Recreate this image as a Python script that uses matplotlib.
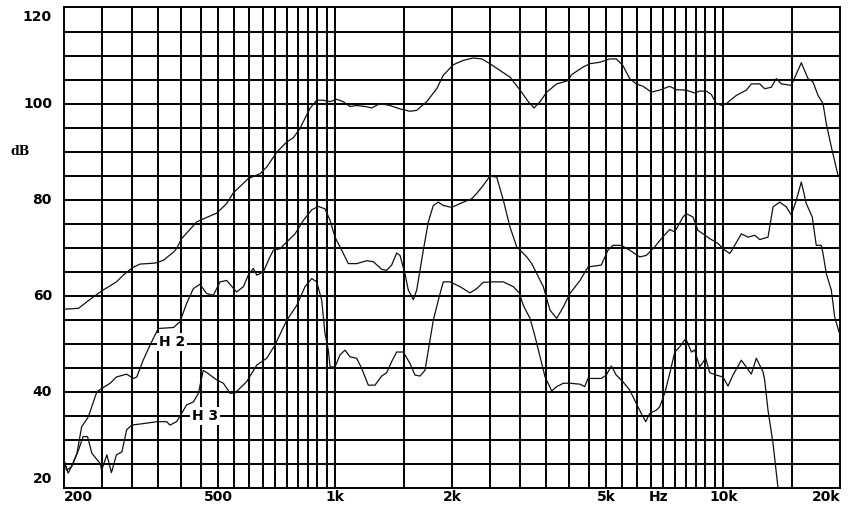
import matplotlib
matplotlib.use("Agg")
import matplotlib.pyplot as plt
from matplotlib.transforms import offset_copy

# ---------------- data ----------------
main_f = [200, 218, 233, 250, 273, 287, 301, 314, 343, 361, 383, 390, 402, 440, 466, 495, 525, 546,
          597, 640, 666, 707, 750, 780, 811, 861, 896, 932, 970, 1009, 1049, 1092, 1136, 1194, 1242,
          1305, 1384, 1469, 1559, 1622, 1721, 1827, 1899, 2016, 2139, 2269, 2386, 2506, 2659, 2822,
          2995, 3146, 3254, 3373, 3510, 3723, 3989, 4061, 4352, 4529, 4806, 5098, 5302, 5517, 5741,
          5970, 6214, 6528, 6860, 7280, 7571, 8034, 8443, 8698, 9046, 9319, 9599, 9946, 10186, 10808,
          11470, 11818, 12417, 12791, 13303, 13703, 14118, 14982, 15898, 16541, 17040, 17554, 18084,
          18440, 18994, 19762, 20000]
main_db = [57.2, 57.4, 59.2, 61.0, 62.9, 64.6, 65.9, 66.6, 66.8, 67.4, 69.1, 69.8, 71.9, 75.4, 76.3,
           77.2, 79.2, 81.4, 84.4, 85.4, 86.8, 89.9, 92.0, 92.9, 94.8, 99.0, 100.7, 100.7, 100.4, 100.9,
           100.4, 99.4, 99.6, 99.4, 99.1, 100.0, 99.6, 98.9, 98.4, 98.6, 100.4, 103.1, 105.9, 108.1,
           109.0, 109.5, 109.3, 108.3, 106.9, 105.5, 102.8, 100.4, 99.1, 100.4, 102.4, 104.1, 104.8,
           106.0, 107.6, 108.3, 108.6, 109.3, 109.3, 107.9, 105.2, 104.1, 103.6, 102.4, 102.8, 103.6,
           102.9, 102.8, 102.2, 102.6, 102.6, 101.9, 100.0, 99.6, 100.0, 101.7, 102.8, 104.1, 104.1,
           103.1, 103.4, 105.2, 104.1, 103.8, 108.5, 105.2, 104.5, 101.7, 100.0, 95.8, 91.0, 85.1, 84.5]

h2_f = [200, 203, 209, 216, 222, 231, 243, 250, 263, 273, 290, 302, 308, 320, 333, 350, 383, 398,
        414, 431, 448, 466, 485, 505, 525, 557, 580, 597, 615, 628, 653, 679, 693, 721, 750, 788, 828,
        870, 905, 941, 970, 999, 1039, 1081, 1136, 1206, 1254, 1318, 1357, 1398, 1440, 1469, 1513,
        1543, 1590, 1622, 1654, 1687, 1738, 1790, 1844, 1899, 1996, 2098, 2248, 2316, 2408, 2506,
        2608, 2712, 2822, 2936, 3116, 3210, 3439, 3578, 3723, 3873, 4030, 4276, 4483, 4851, 5047,
        5200, 5462, 5741, 6091, 6336, 6661, 6996, 7280, 7500, 7877, 8034, 8359, 8610, 8871, 9232,
        9698, 9990, 10394, 10708, 11136, 11588, 12058, 12417, 13046, 13440, 13988, 14546, 14982,
        15434, 15898, 16372, 16967, 17373, 17896, 18084, 18440, 18994, 19378, 19880]
h2_db = [25.8, 23.7, 24.4, 27.2, 32.7, 34.8, 40.0, 40.7, 41.8, 43.1, 43.7, 42.8, 43.1, 46.6, 49.7,
         53.2, 53.4, 54.6, 58.4, 61.5, 62.4, 60.5, 60.1, 62.9, 63.2, 60.8, 61.9, 64.3, 65.7, 64.3,
         65.0, 68.1, 69.5, 69.8, 71.2, 72.9, 75.7, 77.9, 78.6, 78.1, 75.7, 72.2, 69.5, 66.7, 66.7,
         67.3, 67.1, 65.5, 65.3, 66.4, 68.9, 68.4, 64.6, 61.2, 59.2, 61.2, 65.3, 69.5, 75.4, 78.8,
         79.5, 78.8, 78.4, 79.2, 80.2, 81.3, 83.0, 84.9, 84.7, 79.9, 74.3, 70.2, 68.1, 66.7, 61.9,
         57.0, 55.3, 57.7, 60.5, 63.2, 66.0, 66.4, 69.5, 70.5, 70.5, 69.5, 68.1, 68.4, 70.2, 72.3,
         73.8, 73.3, 76.4, 77.1, 76.4, 73.6, 72.9, 71.9, 70.9, 69.8, 68.8, 70.5, 72.9, 72.2, 72.6,
         71.7, 72.2, 78.5, 79.5, 78.5, 76.8, 79.9, 83.7, 79.2, 76.4, 70.5, 70.5, 68.8, 64.6, 61.2,
         55.6, 52.5]

h3_f = [200, 205, 211, 218, 224, 230, 236, 248, 250, 258, 265, 273, 282, 290, 299, 320, 347, 368,
        375, 390, 402, 414, 431, 444, 457, 471, 495, 515, 536, 552, 591, 628, 666, 699, 721, 750, 796,
        836, 870, 896, 923, 941, 960, 970, 999, 1029, 1060, 1092, 1136, 1170, 1217, 1266, 1318, 1357,
        1398, 1440, 1498, 1559, 1606, 1654, 1704, 1738, 1790, 1844, 1899, 1976, 2098, 2226, 2316,
        2408, 2556, 2712, 2878, 2982, 3054, 3178, 3274, 3373, 3475, 3614, 3723, 3873, 4030, 4276,
        4396, 4483, 4851, 4998, 5149, 5302, 5517, 5741, 5970, 6150, 6314, 6465, 6723, 6860, 7066,
        7280, 7500, 7728, 8008, 8280, 8443, 8698, 9014, 9232, 9599, 9990, 10288, 10598, 11136,
        11818, 12170, 12662, 12791, 13046, 13440, 13844, 14000]
h3_db = [25.8, 23.1, 25.1, 27.9, 30.7, 30.7, 27.2, 25.1, 23.7, 26.9, 23.2, 26.9, 27.5, 32.1, 33.1,
         33.4, 33.8, 33.8, 33.1, 33.8, 35.5, 37.3, 37.9, 39.7, 44.5, 43.8, 42.5, 41.8, 39.7, 39.8,
         42.1, 45.6, 47.0, 49.7, 52.0, 54.9, 58.0, 61.9, 63.6, 62.9, 59.1, 52.2, 48.7, 45.2, 45.2,
         47.7, 48.7, 47.3, 47.0, 44.9, 41.4, 41.4, 43.3, 44.0, 46.3, 48.3, 48.3, 45.9, 43.5, 43.3,
         44.5, 48.7, 54.9, 59.1, 62.9, 62.9, 61.9, 60.6, 61.5, 62.8, 62.9, 62.9, 61.9, 60.6, 58.0,
         55.3, 51.5, 47.3, 43.1, 40.2, 41.1, 41.8, 41.8, 41.6, 41.1, 42.8, 42.8, 43.5, 45.4, 43.5,
         42.1, 40.4, 37.6, 35.5, 33.8, 35.5, 36.2, 36.9, 39.7, 43.8, 48.3, 49.4, 51.1, 48.3, 48.7,
         45.2, 47.0, 44.0, 43.5, 43.1, 41.2, 43.5, 46.6, 43.7, 47.0, 44.2, 42.5, 36.2, 29.3, 20.0,
         18.0]

grid_freqs = [250, 300, 350, 400, 450, 500, 550, 600, 650, 700, 750, 800, 850, 900, 950, 1000,
              1500, 2000, 2500, 3000, 3500, 4000, 4500, 5000, 5500, 6000, 6500, 7000, 7500, 8000,
              8500, 9000, 9500, 10000, 15000]
grid_db = [25, 30, 35, 40, 45, 50, 55, 60, 65, 70, 75, 80, 85, 90, 95, 100, 105, 110, 115]

xtick_vals = [200, 500, 1000, 2000, 5000, 10000, 20000]
xtick_labels = ["200", "500", "1k", "2k", "5k", "10k", "20k"]
ytick_vals = [20, 40, 60, 80, 100, 120]
ytick_labels = ["20", "40", "60", "80", "100", "120"]

# ---------------- figure ----------------
W, H = 863, 511
fig = plt.figure(figsize=(W / 100, H / 100), dpi=100)
fig.patch.set_facecolor("white")
ax = fig.add_axes([64 / W, 1 - 488 / H, (840 - 64) / W, (488 - 7.5) / H])
ax.set_xscale("log")
ax.set_xlim(200, 20000)
ax.set_ylim(20, 120)

gc = "#000000"
glw = 1.4
for f in grid_freqs:
    ax.axvline(f, color=gc, lw=glw, zorder=1)
for d in grid_db:
    ax.axhline(d, color=gc, lw=glw, zorder=1)
for s in ax.spines.values():
    s.set_color(gc)
    s.set_linewidth(glw)

lc = "#111111"
clw = 0.9
ax.plot(main_f, main_db, color=lc, lw=clw, zorder=3)
ax.plot(h2_f, h2_db, color=lc, lw=clw, zorder=3)
ax.plot(h3_f, h3_db, color=lc, lw=clw, zorder=3, clip_on=True)

ax.set_xticks([])
ax.set_yticks([])
ax.minorticks_off()
ax.tick_params(which="both", length=0)

fs = 10
fw = "bold"
xf = ax.get_xaxis_transform()
for v, t in zip(xtick_vals, xtick_labels):
    ha = "center"
    if v == xtick_vals[0]:
        ha = "left"
    elif v == xtick_vals[-1]:
        ha = "right"
    ax.text(v, -0.004, t, transform=xf, ha=ha, va="top", fontsize=fs, fontweight=fw, clip_on=False)
ax.text(6800, -0.004, "Hz", transform=xf, ha="center", va="top", fontsize=fs, fontweight=fw,
        clip_on=False)

yf = ax.get_yaxis_transform()
for v, t in zip(ytick_vals, ytick_labels):
    dy = 0
    if v == ytick_vals[0]:
        dy = 9
    elif v == ytick_vals[-1]:
        dy = -9.5
    tr = offset_copy(yf, fig=fig, x=0, y=dy, units="dots")
    ax.text(-0.0155, v, t, transform=tr, ha="right", va="center", fontsize=fs, fontweight=fw,
            clip_on=False)
ax.text(-0.057, 90, "dB", transform=yf, ha="center", va="center", fontsize=fs - 1,
        fontweight=fw, clip_on=False, family="DejaVu Serif")

bb = dict(facecolor="white", edgecolor="none", pad=1.5)
ax.text(380, 50.4, "H 2", ha="center", va="center", fontsize=fs, fontweight=fw, bbox=bb, zorder=4)
ax.text(462, 35.0, "H 3", ha="center", va="center", fontsize=fs, fontweight=fw, bbox=bb, zorder=4)

fig.savefig("out.png", dpi=100, facecolor="white")
